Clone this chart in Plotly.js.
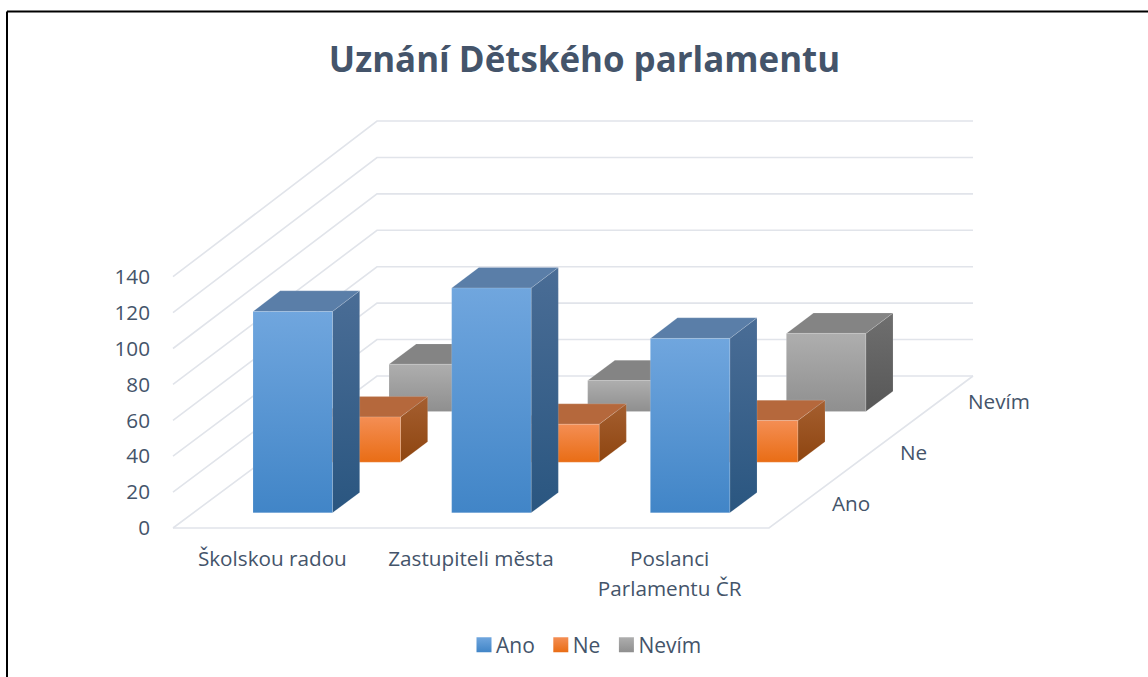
<!DOCTYPE html>
<html>
<head>
<meta charset="utf-8">
<script src="https://cdn.plot.ly/plotly-3.0.1.min.js"></script>
<style>html,body{margin:0;padding:0;background:#fff}#chart{width:1148px;height:677px}</style>
</head>
<body>
<div id="chart"></div>
<script>
const categories = ['Školskou radou', 'Zastupiteli města', 'Poslanci<br>Parlamentu ČR'];
const seriesNames = ['Ano', 'Ne', 'Nevím'];
const ano = [112, 125, 97];
const ne = [25, 21, 23];
const nevim = [26, 17, 43];
const yTicks = [0, 20, 40, 60, 80, 100, 120, 140];
const chartTitle = 'Uznání Dětského parlamentu';

const seriesValues = [ano, ne, nevim];
const palettes = [
  {front: ['#4185c7', '#70a6de'], side: ['#2a5680', '#4a6d96'], top: '#5a7ea8'},
  {front: ['#e96d15', '#f48e54'], side: ['#8e4510', '#a55f30'], top: '#b5683c'},
  {front: ['#8f8f8f', '#aeaeae'], side: ['#575757', '#6f6f6f'], top: '#848484'}
];
const textColor = '#44546a', gridColor = '#e1e4ea';
const labelFont = {family: 'Open Sans', size: 20.7, color: textColor};

// oblique projection of (category, depth, value) on the 2D axes, slight perspective with depth
const pxX = 198.67, pxY = 1.795;
const KX = 68 / pxX, KY = 50.67 / pxY, E = 0.0048;
const L = 155, B = 544, W = 1148, H = 677;
const proj = (c, d, v) => [c + d * KX, v * (1 + d * E) + d * KY];

function poly(points, name, fill) {
  const p = points.map(q => proj(q[0], q[1], q[2]));
  const t = {
    type: 'scatter', mode: 'lines', fill: 'toself', showlegend: false, hoverinfo: 'skip',
    x: p.map(q => q[0]).concat(p[0][0]), y: p.map(q => q[1]).concat(p[0][1]),
    line: {width: 0.7, color: 'rgba(255,255,255,0.2)'}, name: name
  };
  if (Array.isArray(fill)) {
    t.fillgradient = {type: 'vertical', colorscale: [[0, fill[0]], [1, fill[1]]]};
  } else {
    t.fillcolor = fill;
  }
  return t;
}

const traces = [];
// walls and floor
const nCat = categories.length, nDep = seriesNames.length;
const gx = [], gy = [];
yTicks.forEach(v => {
  [proj(0, 0, v), proj(0, nDep, v), proj(nCat, nDep, v), [null, null]].forEach(q => { gx.push(q[0]); gy.push(q[1]); });
});
[proj(0, 0, 0), proj(nCat, 0, 0), proj(nCat, nDep, 0)].forEach(q => { gx.push(q[0]); gy.push(q[1]); });
traces.push({type: 'scatter', mode: 'lines', x: gx, y: gy, showlegend: false, hoverinfo: 'skip',
  connectgaps: false, line: {color: gridColor, width: 1.6}});

// bars, back to front
for (let j = nDep - 1; j >= 0; j--) {
  for (let i = 0; i < nCat; i++) {
    const v = seriesValues[j][i], pal = palettes[j], n = seriesNames[j];
    const c0 = i + 0.3, c1 = i + 0.7, d0 = j + 0.3, d1 = j + 0.7;
    traces.push(poly([[c1, d0, 0], [c1, d1, 0], [c1, d1, v], [c1, d0, v]], n, pal.side));
    traces.push(poly([[c0, d0, v], [c1, d0, v], [c1, d1, v], [c0, d1, v]], n, pal.top));
    traces.push(poly([[c0, d0, 0], [c1, d0, 0], [c1, d0, v], [c0, d0, v]], n, pal.front));
  }
}
// legend entries
seriesNames.forEach((n, j) => {
  traces.push({type: 'scatter', mode: 'markers', name: n, x: [null], y: [null], hoverinfo: 'skip',
    marker: {symbol: 'square', size: 15, color: palettes[j].front[1],
      gradient: {type: 'vertical', color: palettes[j].front[0]}, line: {width: 0}}});
});

const annotations = seriesNames.map((n, j) => {
  const q = proj(nCat, j + 0.5, 0);
  return {x: q[0], y: q[1], text: n, xref: 'x', yref: 'y', xanchor: 'left', yanchor: 'middle',
    xshift: 27, showarrow: false, font: labelFont};
});

const plotW = W - L;
const frameLine = {color: '#000', width: 2};
const layout = {
  width: W, height: H,
  margin: {l: L, r: 0, t: 0, b: H - B, pad: 0},
  paper_bgcolor: '#fff', plot_bgcolor: 'rgba(0,0,0,0)',
  title: {text: chartTitle, x: 584.5 / W, xanchor: 'center', xref: 'container', y: 1 - 60 / H, yref: 'container', yanchor: 'middle',
    font: {family: 'Open Sans', size: 34.9, weight: 700, color: textColor}},
  xaxis: {range: [(L - 173) / pxX, (W - 173) / pxX], tickmode: 'array',
    tickvals: categories.map((c, i) => i + 0.5), ticktext: categories,
    showgrid: false, zeroline: false, showline: false, ticks: '', tickangle: 0,
    tickfont: labelFont},
  yaxis: {range: [(528 - B) / pxY, 528 / pxY], tickmode: 'array', tickvals: yTicks,
    showgrid: false, zeroline: false, showline: false, ticks: '', ticklabelstandoff: 4,
    tickfont: labelFont},
  legend: {orientation: 'h', x: (588.5 - L) / plotW, xanchor: 'center', y: (B - 645) / B, yanchor: 'middle',
    font: {family: 'Open Sans', size: 21, color: textColor}, bgcolor: 'rgba(0,0,0,0)'},
  annotations: annotations,
  shapes: [
    {type: 'line', xref: 'paper', yref: 'paper', layer: 'above',
      x0: (7 - L) / plotW, x1: 1, y0: (B - 11.5) / B, y1: (B - 11.5) / B, line: frameLine},
    {type: 'line', xref: 'paper', yref: 'paper', layer: 'above',
      x0: (7 - L) / plotW, x1: (7 - L) / plotW, y0: (B - H) / B, y1: (B - 11.5) / B, line: frameLine}
  ]
};

Plotly.newPlot('chart', traces, layout, {displayModeBar: false, staticPlot: true}).then(gd => {
  // legend: tighter swatch gap and item spacing
  gd.querySelectorAll('.legend .legendpoints').forEach(el => el.setAttribute('transform', 'translate(8,0)'));
  gd.querySelectorAll('.legend .traces').forEach((el, k) => {
    const m = /translate\(([-\d.]+),\s*([-\d.]+)\)/.exec(el.getAttribute('transform') || '');
    if (m) el.setAttribute('transform', 'translate(' + (parseFloat(m[1]) - k * 7) + ',' + m[2] + ')');
  });
  // category label line spacing
  gd.querySelectorAll('.xtick text tspan.line').forEach(el => {
    const dy = parseFloat(el.getAttribute('dy'));
    if (dy > 0) el.setAttribute('dy', (dy + 0.15) + 'em');
  });
});
</script>
</body>
</html>
